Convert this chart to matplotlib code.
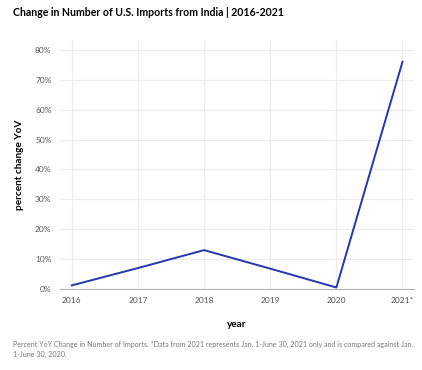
import matplotlib
matplotlib.use('Agg')
import matplotlib.pyplot as plt
from matplotlib.ticker import PercentFormatter

years = [2016, 2017, 2018, 2019, 2020, 2021]
year_labels = ['2016', '2017', '2018', '2019', '2020', '2021*']
pct_change = [1.2, 7.0, 13.0, 6.8, 0.5, 76.0]

plt.rcParams['font.family'] = ['Lato', 'DejaVu Sans']

fig = plt.figure(figsize=(4.22, 3.70), dpi=100)
ax = fig.add_axes([0.142, 0.219, 0.84, 0.673])

ax.plot(years, pct_change, color='#2237b0', linewidth=1.4, zorder=3)

ax.set_xlim(2015.82, 2021.18)
ax.set_ylim(0, 83.3)
ax.set_xticks(years)
ax.set_xticklabels(year_labels)
ax.set_yticks(range(0, 81, 10))
ax.yaxis.set_major_formatter(PercentFormatter(decimals=0))

ax.grid(True, color='#ececec', linewidth=0.8)
ax.set_axisbelow(True)
for side in ['top', 'right', 'left']:
    ax.spines[side].set_visible(False)
ax.spines['bottom'].set_color('#b0b0b0')
ax.spines['bottom'].set_linewidth(0.8)
ax.tick_params(length=0, labelsize=6, labelcolor='#555555', pad=6)

ax.set_xlabel('year', fontsize=7.2, fontweight='bold', labelpad=11)
ax.set_ylabel('percent change YoV', fontsize=7.2, fontweight='bold', labelpad=8)

fig.text(0.03, 0.965, 'Change in Number of U.S. Imports from India | 2016-2021',
         fontsize=7.6, fontweight='bold', va='center')
fig.text(0.03, 0.055,
         'Percent YoY Change in Number of Imports. *Data from 2021 represents Jan. 1-June 30, 2021 only and is compared against Jan.\n1-June 30, 2020.',
         fontsize=5.1, color='#777777', va='center', linespacing=1.55)

fig.savefig('out.png', dpi=100, facecolor='white')
